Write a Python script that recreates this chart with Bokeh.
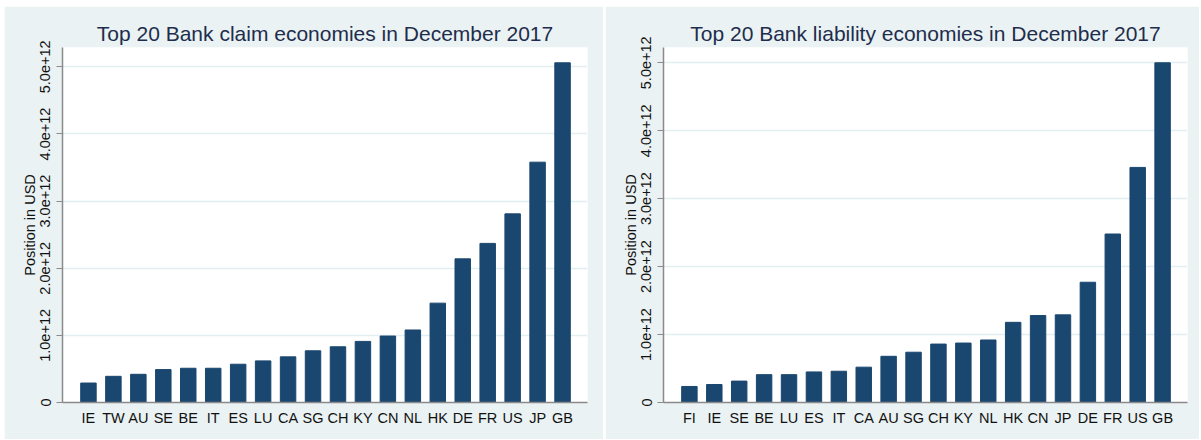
from bokeh.plotting import figure
from bokeh.layouts import row
from bokeh.models import FixedTicker, CustomJSTickFormatter, ColumnDataSource
from bokeh.embed import file_html
from bokeh.resources import INLINE

# ---- data ----
claim_countries = ["IE", "TW", "AU", "SE", "BE", "IT", "ES", "LU", "CA", "SG",
                   "CH", "KY", "CN", "NL", "HK", "DE", "FR", "US", "JP", "GB"]
claim_values = [0.29e12, 0.39e12, 0.42e12, 0.49e12, 0.51e12, 0.51e12, 0.57e12, 0.62e12, 0.68e12, 0.77e12,
                0.83e12, 0.91e12, 0.99e12, 1.08e12, 1.48e12, 2.14e12, 2.37e12, 2.81e12, 3.58e12, 5.06e12]

liab_countries = ["FI", "IE", "SE", "BE", "LU", "ES", "IT", "CA", "AU", "SG",
                  "CH", "KY", "NL", "HK", "CN", "JP", "DE", "FR", "US", "GB"]
liab_values = [0.236e12, 0.265e12, 0.315e12, 0.41e12, 0.41e12, 0.45e12, 0.46e12, 0.52e12, 0.68e12, 0.74e12,
               0.86e12, 0.875e12, 0.92e12, 1.18e12, 1.28e12, 1.29e12, 1.77e12, 2.48e12, 3.46e12, 5.0e12]

y_ticks = [0, 1e12, 2e12, 3e12, 4e12, 5e12]

BG = "#EAF2F3"
BAR = "#1A476F"
AXIS = "#8A8A8A"
TXT = "#111111"
TITLE = "#1E2D4C"
FONT = "Liberation Sans"


def make_panel(title, cats, vals, width, left, right, ytop):
    p = figure(width=width, height=433, output_backend="svg", toolbar_location=None,
               x_range=(-1.04, 20.0), y_range=(0, ytop),
               min_border_left=left, min_border_right=right,
               min_border_top=41, min_border_bottom=37)
    p.title.text = title
    p.title.align = "center"
    p.title.text_font = FONT
    p.title.text_font_size = "21px"
    p.title.text_font_style = "normal"
    p.title.text_color = TITLE
    p.title.standoff = 6

    p.background_fill_color = "white"
    p.border_fill_color = BG
    p.outline_line_color = None

    src = ColumnDataSource(dict(x=list(range(len(cats))), top=vals))
    p.vbar(x="x", top="top", width=0.62, source=src, fill_color=BAR, line_color=BAR)

    # x axis
    xa = p.xaxis[0]
    xa.ticker = FixedTicker(ticks=list(range(len(cats))))
    xa.major_label_overrides = {i: c for i, c in enumerate(cats)}
    xa.major_tick_line_color = None
    xa.minor_tick_line_color = None
    xa.axis_line_color = AXIS
    xa.axis_line_width = 1.5
    xa.major_label_text_font = FONT
    xa.major_label_text_font_size = "14.5px"
    xa.major_label_text_color = TXT
    xa.major_label_standoff = 1

    # y axis
    ya = p.yaxis[0]
    ya.ticker = FixedTicker(ticks=y_ticks)
    ya.formatter = CustomJSTickFormatter(
        code='return tick == 0 ? "0" : (tick / 1e12).toFixed(1) + "e+12";')
    ya.major_label_orientation = "vertical"
    ya.major_tick_out = 6
    ya.major_tick_in = 0
    ya.minor_tick_line_color = None
    ya.major_tick_line_color = AXIS
    ya.axis_line_color = AXIS
    ya.axis_line_width = 1.5
    ya.major_label_text_font = FONT
    ya.major_label_text_font_size = "14.5px"
    ya.major_label_text_color = TXT
    ya.major_label_standoff = 6
    ya.axis_label = "Position in USD"
    ya.axis_label_text_font = FONT
    ya.axis_label_text_font_size = "14.5px"
    ya.axis_label_text_font_style = "normal"
    ya.axis_label_text_color = TXT
    ya.axis_label_standoff = 0

    p.xgrid.grid_line_color = None
    p.ygrid.ticker = FixedTicker(ticks=y_ticks)
    p.ygrid.grid_line_color = "#E3EEF0"
    p.ygrid.grid_line_width = 1.5
    return p


p1 = make_panel("Top 20 Bank claim economies in December 2017",
                claim_countries, claim_values, 599, 58, 16, 5.288e12)
p2 = make_panel("Top 20 Bank liability economies in December 2017",
                liab_countries, liab_values, 594, 58, 12, 5.225e12)

layout = row(p1, p2, spacing=2, margin=(6, 0, 0, 4))
open("out.html", "w").write(file_html(layout, INLINE))
